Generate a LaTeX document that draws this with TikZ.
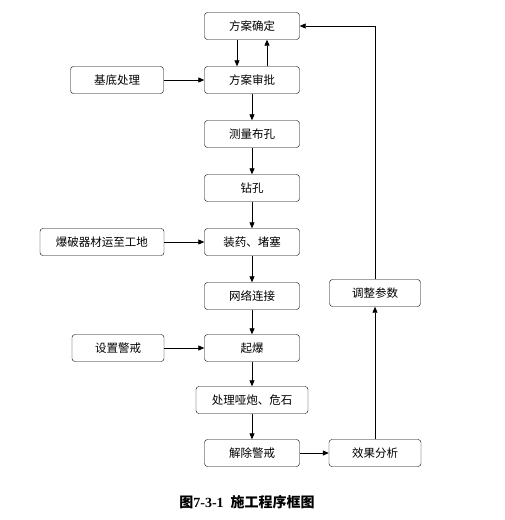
\documentclass[tikz,border=0pt]{standalone}
\usepackage{fontspec}
\setmainfont{Liberation Serif}
\newfontfamily\cjk{Noto Sans CJK SC}
\usetikzlibrary{arrows.meta,positioning}

\begin{document}
\begin{tikzpicture}[x=1pt, y=-1pt,
    stepbox/.style={draw, rounded corners=3pt, minimum width=95pt, minimum height=27pt, inner sep=2pt, font=\cjk\fontsize{11.5}{13}\selectfont},
    arr/.style={-{Triangle[length=6pt,width=5pt]}, line width=0.8pt}
]
\useasboundingbox (0,0) rectangle (504,520);
% main column
\node[stepbox] (fa) at (252,26) {方案确定};
\node[stepbox] (sp) at (252,80) {方案审批};
\node[stepbox] (cl) at (252,134) {测量布孔};
\node[stepbox] (zk) at (252,188) {钻孔};
\node[stepbox] (zy) at (252,242) {装药、堵塞};
\node[stepbox] (wl) at (252,296) {网络连接};
\node[stepbox] (qb) at (252,348) {起爆};
\node[stepbox, minimum width=112pt] (cm) at (252,400) {处理哑炮、危石};
\node[stepbox] (jc) at (252,453) {解除警戒};
% side boxes
\node[stepbox, minimum width=93pt] (jd) at (117,80) {基底处理};
\node[stepbox, minimum width=124pt] (bp) at (102,242) {爆破器材运至工地};
\node[stepbox, minimum width=92pt] (sz) at (118,348) {设置警戒};
\node[stepbox, minimum width=92pt] (xg) at (375,453) {效果分析};
\node[stepbox, minimum width=91pt] (tz) at (375,293) {调整参数};
% caption
\node (cap) at (247,502) {\fontsize{14}{16}\selectfont\bfseries{\cjk 图}7-3-1\ \ {\cjk 施工程序框图}};

\draw[arr] ([xshift=-15pt]fa.south) -- ([xshift=-15pt]sp.north);
\draw[arr] ([xshift=15pt]sp.north) -- ([xshift=15pt]fa.south);
\draw[arr] (sp) -- (cl);
\draw[arr] (cl) -- (zk);
\draw[arr] (zk) -- (zy);
\draw[arr] (zy) -- (wl);
\draw[arr] (wl) -- (qb);
\draw[arr] (qb) -- (cm);
\draw[arr] (cm) -- (jc);
\draw[arr] (jd) -- (sp);
\draw[arr] (bp) -- (zy);
\draw[arr] (sz) -- (qb);
\draw[arr] (jc) -- (xg);
\draw[arr] (xg) -- (tz);
\draw[arr] (tz) |- (fa);
\end{tikzpicture}
\end{document}
